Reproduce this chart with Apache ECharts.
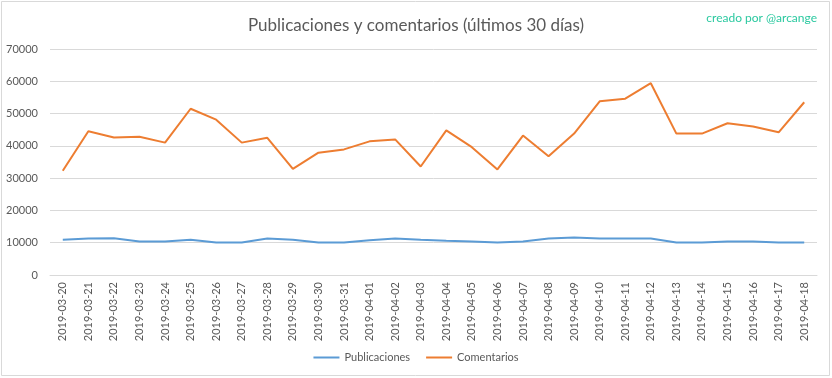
<!DOCTYPE html>
<html>
<head>
<meta charset="utf-8">
<script src="https://cdn.jsdelivr.net/npm/echarts@6/dist/echarts.min.js"></script>
<style>
  html, body { margin: 0; padding: 0; background: #fff; }
  #chart { width: 832px; height: 378px; }
</style>
</head>
<body>
<div id="chart"></div>
<script>
  // fechas (últimos 30 días)
  const categories = [
    '2019-03-20', '2019-03-21', '2019-03-22', '2019-03-23', '2019-03-24', '2019-03-25',
    '2019-03-26', '2019-03-27', '2019-03-28', '2019-03-29', '2019-03-30', '2019-03-31',
    '2019-04-01', '2019-04-02', '2019-04-03', '2019-04-04', '2019-04-05', '2019-04-06',
    '2019-04-07', '2019-04-08', '2019-04-09', '2019-04-10', '2019-04-11', '2019-04-12',
    '2019-04-13', '2019-04-14', '2019-04-15', '2019-04-16', '2019-04-17', '2019-04-18'
  ];
  const publicaciones = [
    10900, 11300, 11400, 10400, 10400, 10900, 10100, 10100, 11300, 10900,
    10100, 10100, 10800, 11300, 10900, 10600, 10400, 10100, 10400, 11300,
    11600, 11300, 11300, 11300, 10100, 10100, 10400, 10400, 10100, 10100
  ];
  const comentarios = [
    32300, 44500, 42600, 42800, 41000, 51500, 48100, 41000, 42500, 32900,
    37900, 38900, 41400, 42000, 33600, 44800, 39600, 32700, 43200, 36800,
    43800, 53800, 54600, 59400, 43800, 43800, 47000, 46000, 44200, 53500
  ];
  const yTicks = [0, 10000, 20000, 30000, 40000, 50000, 60000, 70000];

  const myChart = echarts.init(document.getElementById('chart'));
  const font = 'Lato, "Open Sans", sans-serif';

  const option = {
    backgroundColor: '#fff',
    animation: false,
    textStyle: { fontFamily: font },
    title: [
      {
        text: 'Publicaciones y comentarios (últimos 30 días)',
        left: 'center',
        top: 12,
        textStyle: { fontFamily: font, fontSize: 17, fontWeight: 'normal', color: '#595959' }
      },
      {
        text: 'creado por @arcange',
        right: 10,
        top: 7,
        textStyle: { fontFamily: font, fontSize: 12, fontWeight: 'normal', color: '#2bc9a0' }
      }
    ],
    graphic: [
      {
        type: 'rect',
        shape: { x: 1.5, y: 1.5, width: 828, height: 374 },
        style: { fill: 'none', stroke: '#d9d9d9', lineWidth: 1 },
        silent: true
      }
    ],
    legend: {
      bottom: 10,
      left: 'center',
      itemWidth: 26,
      itemHeight: 2,
      itemGap: 16,
      icon: 'rect',
      textStyle: { fontFamily: font, fontSize: 11, color: '#595959' },
      data: ['Publicaciones', 'Comentarios']
    },
    grid: {
      left: 50,
      right: 15,
      top: 49,
      bottom: 103,
      containLabel: false
    },
    xAxis: {
      type: 'category',
      data: categories,
      boundaryGap: true,
      axisTick: { show: false },
      axisLine: { lineStyle: { color: '#d9d9d9' } },
      axisLabel: {
        rotate: 90,
        interval: 0,
        margin: 7,
        fontSize: 11,
        color: '#595959',
        fontFamily: font
      }
    },
    yAxis: {
      type: 'value',
      min: yTicks[0],
      max: yTicks[yTicks.length - 1],
      interval: 10000,
      axisLine: { show: false },
      axisTick: { show: false },
      axisLabel: {
        fontSize: 11,
        color: '#595959',
        margin: 12,
        fontFamily: font,
        formatter: (v) => String(v)
      },
      splitLine: { lineStyle: { color: '#d9d9d9' } }
    },
    series: [
      {
        name: 'Publicaciones',
        type: 'line',
        data: publicaciones,
        symbol: 'none',
        lineStyle: { width: 2, color: '#5b9bd5' },
        itemStyle: { color: '#5b9bd5' }
      },
      {
        name: 'Comentarios',
        type: 'line',
        data: comentarios,
        symbol: 'none',
        lineStyle: { width: 2, color: '#ed7d31' },
        itemStyle: { color: '#ed7d31' }
      }
    ]
  };

  option && myChart.setOption(option);
  window.addEventListener('resize', () => {
    myChart.resize()
  })
</script>
</body>
</html>
